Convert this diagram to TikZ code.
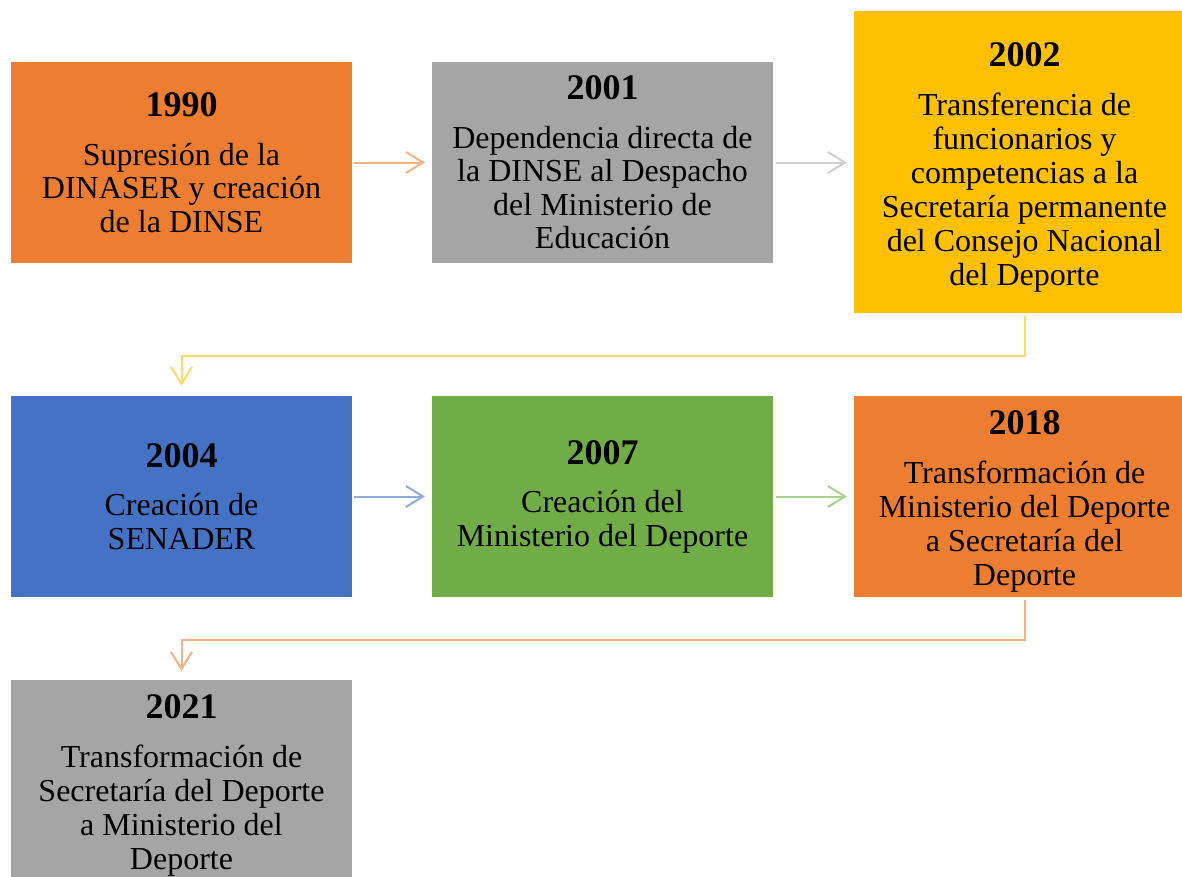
\documentclass[tikz,border=0pt]{standalone}
\usepackage{fontspec}
\setmainfont{Liberation Serif}
\usetikzlibrary{arrows.meta}
\definecolor{cOr}{HTML}{ED7D31}
\definecolor{cGr}{HTML}{A5A5A5}
\definecolor{cGo}{HTML}{FFC000}
\definecolor{cBl}{HTML}{4472C4}
\definecolor{cGn}{HTML}{70AD47}
\definecolor{aOr}{HTML}{F4B183}
\definecolor{aGr}{HTML}{CFCFCF}
\definecolor{aGo}{HTML}{FFD966}
\definecolor{aBl}{HTML}{8FAADC}
\definecolor{aGn}{HTML}{A9D18E}
\newcommand\yearlabel[1]{{\fontsize{36}{36}\selectfont\bfseries #1}}
\newcommand\lowyear[1]{{\rule{0pt}{34pt}\fontsize{36}{36}\selectfont\bfseries #1}}
\begin{document}
\begin{tikzpicture}[x=1pt,y=-1pt,
  box/.style={rectangle, minimum width=341pt, minimum height=201pt, inner sep=0pt,
    align=center, font=\fontsize{32}{33.5}\selectfont, text=black},
  lowered/.style={font=\fontsize{32}{34}\selectfont},
  conn/.style={line width=2pt, -{Straight Barb[length=17pt,width=21pt]}}]
\clip (0,0) rectangle (1182,876);
\fill[white] (0,0) rectangle (1182,876);
% row 1
\node[box, fill=cOr] (n1990) at (181.5,162.5)
  {\yearlabel{1990}\\[15pt]Supresión de la\\DINASER y creación\\de la DINSE};
\node[box, fill=cGr] (n2001) at (602.5,162.5)
  {\yearlabel{2001}\\[15pt]Dependencia directa de\\la DINSE al Despacho\\del Ministerio de\\Educación};
\node[box, lowered, fill=cGo, minimum height=302pt] (n2002) at (1024.5,162)
  {\lowyear{2002}\\[15pt]Transferencia de\\funcionarios y\\competencias a la\\Secretaría permanente\\del Consejo Nacional\\del Deporte};
% row 2
\node[box, fill=cBl] (n2004) at (181.5,496.5)
  {\yearlabel{2004}\\[15pt]Creación de\\SENADER};
\node[box, fill=cGn] (n2007) at (602.5,496.5)
  {\yearlabel{2007}\\[15pt]Creación del\\Ministerio del Deporte};
\node[box, lowered, fill=cOr] (n2018) at (1024.5,496.5)
  {\lowyear{2018}\\[15pt]Transformación de\\Ministerio del Deporte\\a Secretaría del\\Deporte};
% row 3
\node[box, lowered, fill=cGr] (n2021) at (181.5,780.5)
  {\lowyear{2021}\\[15pt]Transformación de\\Secretaría del Deporte\\a Ministerio del\\Deporte};
% connectors
\draw[conn, aOr] ([xshift=2pt]n1990.east) -- ([xshift=-7pt]n2001.west);
\draw[conn, aGr] ([xshift=3pt]n2001.east) -- ([xshift=-7pt]n2002.west |- n2001.east);
\draw[conn, aGo] ([yshift=-3pt]n2002.south) -- ++(0,40) -| ([yshift=10pt]n2004.north);
\draw[conn, aBl] ([xshift=2pt]n2004.east) -- ([xshift=-7pt]n2007.west);
\draw[conn, aGn] ([xshift=3pt]n2007.east) -- ([xshift=-7pt]n2018.west);
\draw[conn, aOr] ([yshift=-3pt]n2018.south) -- ++(0,40) -| ([yshift=9pt]n2021.north);
\end{tikzpicture}
\end{document}
